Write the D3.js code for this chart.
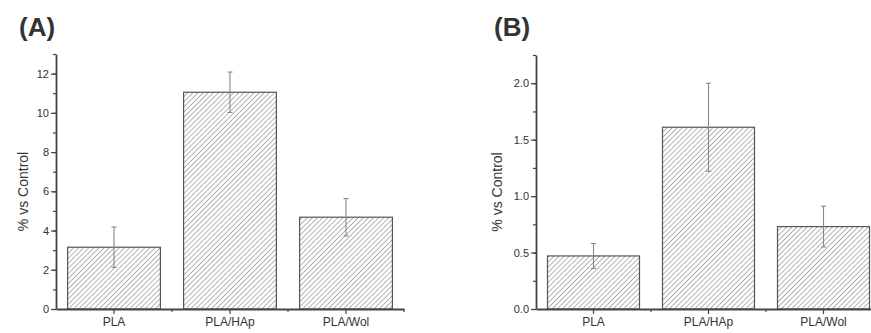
<!DOCTYPE html>
<html>
<head>
<meta charset="utf-8">
<script src="https://cdn.jsdelivr.net/npm/d3@7"></script>
<style>
  body { margin: 0; background: #fff; }
  text { font-family: "Liberation Sans", Arial, sans-serif; fill: #333; }
</style>
</head>
<body>
<div class="svg-container"></div>
<script>
// chart data
const categories = ['PLA', 'PLA/HAp', 'PLA/Wol'];
const valuesA = [3.15, 11.05, 4.68];
const errorsA = [1.03, 1.03, 0.95];
const valuesB = [0.47, 1.61, 0.73];
const errorsB = [0.11, 0.39, 0.18];
const ticksA = [0, 2, 4, 6, 8, 10, 12];
const ticksB = [0, 0.5, 1.0, 1.5, 2.0];

const width = 871;
const height = 333;

const svg = d3.select('.svg-container')
  .append('svg')
  .attr('width', width)
  .attr('height', height);

// hatch pattern for the bars
const defs = svg.append('defs');
const pattern = defs.append('pattern')
  .attr('id', 'hatch')
  .attr('patternUnits', 'userSpaceOnUse')
  .attr('width', 3.6)
  .attr('height', 3.6)
  .attr('patternTransform', 'rotate(45)');
pattern.append('rect')
  .attr('width', 3.6).attr('height', 3.6).attr('fill', '#fff');
pattern.append('line')
  .attr('x1', 0).attr('y1', 0).attr('x2', 0).attr('y2', 3.6)
  .attr('stroke', '#808080')
  .attr('stroke-width', 1.2);

function drawPanel(opts) {
  const { left, right, top, bottom, yMax, ticks, minorStep, values, errors, title, titleX, labelX, fmt } = opts;

  // band for the axis ticks (no padding), bars take 80% of each band
  const xAxisBand = d3.scaleBand()
    .domain(categories)
    .range([left, right]);

  const y = d3.scaleLinear()
    .domain([0, yMax])
    .range([bottom, top]);

  const g = svg.append('g');
  const cx = i => xAxisBand(categories[i]) + xAxisBand.bandwidth() / 2;

  // bars
  g.selectAll('rect.bar')
    .data(values)
    .enter()
    .append('rect')
    .attr('class', 'bar')
    .attr('x', (d, i) => cx(i) - xAxisBand.bandwidth() * 0.4)
    .attr('width', xAxisBand.bandwidth() * 0.8)
    .attr('y', d => y(d))
    .attr('height', d => y(0) - y(d))
    .attr('fill', 'url(#hatch)')
    .attr('stroke', '#555')
    .attr('stroke-width', 1.2);

  // error bars
  const err = g.selectAll('g.err')
    .data(values)
    .enter()
    .append('g')
    .attr('class', 'err')
    .attr('stroke', '#888')
    .attr('stroke-width', 1.1);
  err.append('line')
    .attr('x1', (d, i) => cx(i)).attr('x2', (d, i) => cx(i))
    .attr('y1', (d, i) => y(d + errors[i]))
    .attr('y2', (d, i) => y(d - errors[i]));
  err.append('line')
    .attr('x1', (d, i) => cx(i) - 2.5).attr('x2', (d, i) => cx(i) + 2.5)
    .attr('y1', (d, i) => y(d + errors[i]))
    .attr('y2', (d, i) => y(d + errors[i]));
  err.append('line')
    .attr('x1', (d, i) => cx(i) - 2.5).attr('x2', (d, i) => cx(i) + 2.5)
    .attr('y1', (d, i) => y(d - errors[i]))
    .attr('y2', (d, i) => y(d - errors[i]));

  // y axis: minor ticks then major ticks
  const minor = d3.range(0, yMax + minorStep / 2, minorStep);
  g.append('g')
    .attr('transform', `translate(${left},0)`)
    .call(d3.axisLeft(y).tickValues(minor).tickSize(3).tickFormat(''))
    .call(a => a.select('.domain').remove())
    .call(a => a.selectAll('line').attr('stroke', '#444').attr('stroke-width', 1.2));

  const yAxis = g.append('g')
    .attr('transform', `translate(${left},0)`)
    .call(d3.axisLeft(y).tickValues(ticks).tickSize(5).tickSizeOuter(0).tickFormat(fmt));
  yAxis.select('.domain').attr('stroke', '#444').attr('stroke-width', 1.8);
  yAxis.selectAll('line').attr('stroke', '#444').attr('stroke-width', 1.2);
  yAxis.selectAll('text')
    .attr('x', -7)
    .style('font-family', '"Liberation Sans", Arial, sans-serif')
    .style('font-size', '11px')
    .attr('fill', '#333');

  // x axis: ticks at category centres plus boundary ticks
  const xAxis = g.append('g')
    .attr('transform', `translate(0,${bottom})`)
    .call(d3.axisBottom(xAxisBand).tickSize(5).tickSizeOuter(0));
  xAxis.select('.domain').attr('stroke', '#444').attr('stroke-width', 1.8);
  xAxis.selectAll('line').attr('stroke', '#444').attr('stroke-width', 1.2);
  xAxis.selectAll('text')
    .attr('y', 8)
    .attr('dy', '0.71em')
    .style('font-family', '"Liberation Sans", Arial, sans-serif')
    .style('font-size', '12px')
    .attr('fill', '#222');

  const bounds = categories.slice(1).map(c => xAxisBand(c)).concat([right]);
  g.selectAll('line.bound')
    .data(bounds)
    .enter()
    .append('line')
    .attr('class', 'bound')
    .attr('x1', d => d).attr('x2', d => d)
    .attr('y1', bottom).attr('y2', bottom + 3)
    .attr('stroke', '#444')
    .attr('stroke-width', 1.2);

  // axis title
  g.append('text')
    .attr('transform', `translate(${labelX},${(top + bottom) / 2 + 10}) rotate(-90)`)
    .attr('text-anchor', 'middle')
    .style('font-size', '14px')
    .attr('fill', '#222')
    .text('% vs Control');

  // panel letter
  g.append('text')
    .attr('x', titleX)
    .attr('y', 36)
    .style('font-size', '26px')
    .style('font-weight', 'bold')
    .attr('fill', '#111')
    .text(title);
}

drawPanel({
  left: 56, right: 404, top: 54, bottom: 309,
  yMax: 13, ticks: ticksA, minorStep: 1,
  values: valuesA, errors: errorsA,
  title: '(A)', titleX: 19, labelX: 28,
  fmt: d3.format('d')
});

drawPanel({
  left: 536, right: 881, top: 55, bottom: 309,
  yMax: 2.25, ticks: ticksB, minorStep: 0.25,
  values: valuesB, errors: errorsB,
  title: '(B)', titleX: 494, labelX: 502,
  fmt: d3.format('.1f')
});
</script>
</body>
</html>
